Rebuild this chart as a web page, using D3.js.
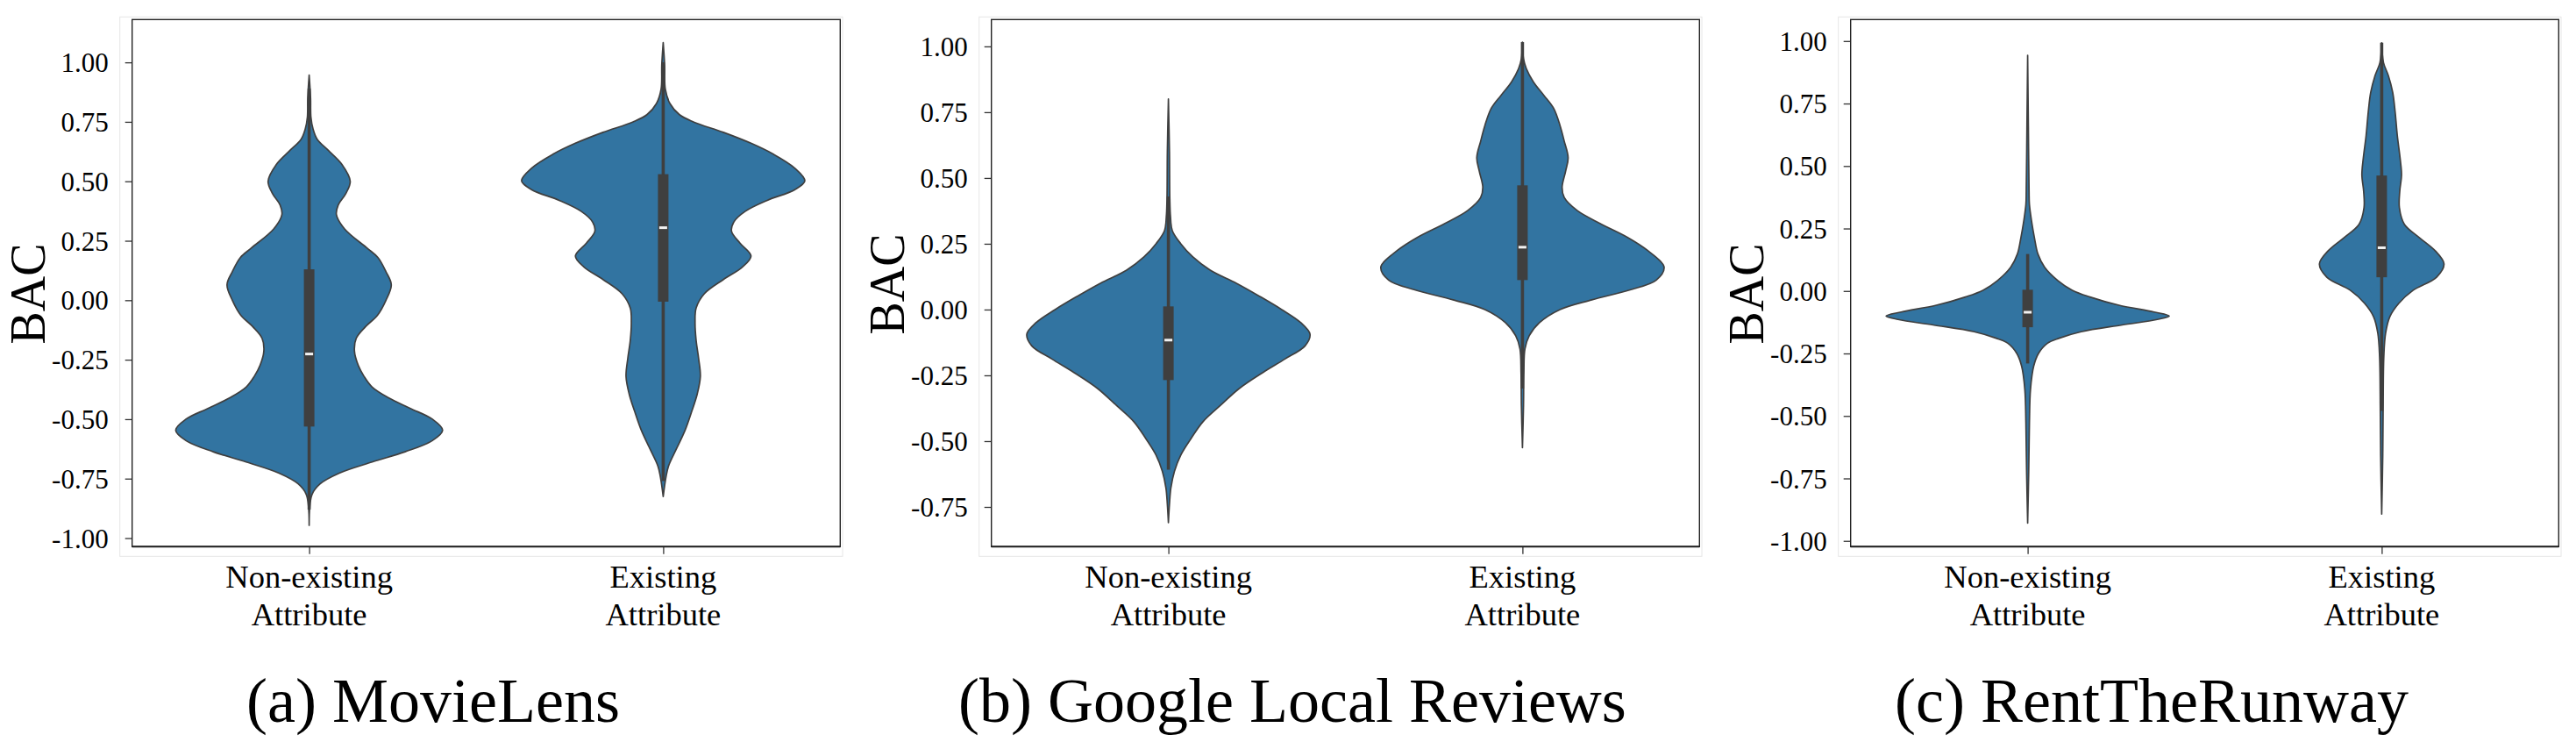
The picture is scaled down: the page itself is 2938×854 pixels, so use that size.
<!DOCTYPE html>
<html>
<head>
<meta charset="utf-8">
<script src="https://cdn.jsdelivr.net/npm/d3@7"></script>
<style>
  html, body { margin: 0; padding: 0; background: #ffffff; }
  svg { display: block; }
</style>
</head>
<body>
<svg id="chart" width="2938" height="854"></svg>
<script>
// ---------------- DATA ----------------
const categories = ["Non-existing", "Existing"];
const categoryLines = [["Non-existing", "Attribute"], ["Existing", "Attribute"]];
const panelTitles = ["(a) MovieLens", "(b) Google Local Reviews", "(c) RentTheRunway"];
const yLabel = "BAC";

const yTicksMovieLens = [-1.00, -0.75, -0.50, -0.25, 0.00, 0.25, 0.50, 0.75, 1.00];
const yTicksGoogle    = [-0.75, -0.50, -0.25, 0.00, 0.25, 0.50, 0.75, 1.00];
const yTicksRent      = [-1.00, -0.75, -0.50, -0.25, 0.00, 0.25, 0.50, 0.75, 1.00];

// Violin outlines: BAC level and half-width (in category units, max 0.4)
const mlNonVals   = [0.947, 0.85, 0.77, 0.72, 0.676, 0.63, 0.57, 0.50, 0.45, 0.40, 0.36, 0.30, 0.22, 0.18, 0.12, 0.065, 0.0, -0.063, -0.11, -0.16, -0.214, -0.275, -0.32, -0.365, -0.41, -0.455, -0.50, -0.546, -0.59, -0.637, -0.68, -0.727, -0.772, -0.817, -0.946];
const mlNonWidths = [0, 0.004, 0.005, 0.011, 0.023, 0.054, 0.093, 0.116, 0.104, 0.082, 0.077, 0.10, 0.163, 0.194, 0.217, 0.232, 0.217, 0.193, 0.16, 0.133, 0.128, 0.139, 0.155, 0.178, 0.224, 0.286, 0.348, 0.377, 0.348, 0.271, 0.178, 0.085, 0.031, 0.008, 0];
const mlExVals    = [1.083, 0.99, 0.887, 0.827, 0.78, 0.75, 0.706, 0.66, 0.615, 0.555, 0.502, 0.465, 0.42, 0.374, 0.33, 0.29, 0.24, 0.186, 0.14, 0.087, 0.027, -0.033, -0.094, -0.169, -0.244, -0.32, -0.395, -0.47, -0.546, -0.62, -0.697, -0.742, -0.825];
const mlExWidths  = [0, 0.004, 0.006, 0.019, 0.046, 0.085, 0.17, 0.248, 0.31, 0.372, 0.40, 0.372, 0.294, 0.232, 0.20, 0.193, 0.217, 0.248, 0.224, 0.17, 0.116, 0.093, 0.09, 0.093, 0.10, 0.105, 0.096, 0.08, 0.062, 0.039, 0.015, 0.008, 0];

const glNonVals   = [0.80, 0.60, 0.42, 0.351, 0.30, 0.25, 0.20, 0.15, 0.10, 0.05, 0.0, -0.05, -0.094, -0.138, -0.188, -0.239, -0.30, -0.364, -0.427, -0.49, -0.553, -0.615, -0.678, -0.74, -0.81];
const glNonWidths = [0, 0.003, 0.004, 0.006, 0.011, 0.035, 0.069, 0.118, 0.192, 0.258, 0.32, 0.374, 0.40, 0.386, 0.329, 0.267, 0.20, 0.147, 0.097, 0.064, 0.035, 0.017, 0.007, 0.003, 0];
const glExVals    = [1.016, 0.953, 0.915, 0.865, 0.815, 0.765, 0.70, 0.64, 0.577, 0.526, 0.464, 0.426, 0.376, 0.326, 0.275, 0.225, 0.162, 0.112, 0.075, 0.037, 0.0, -0.05, -0.10, -0.15, -0.238, -0.364, -0.525];
const glExWidths  = [0, 0.003, 0.011, 0.031, 0.06, 0.088, 0.106, 0.118, 0.129, 0.122, 0.112, 0.118, 0.155, 0.221, 0.296, 0.353, 0.40, 0.378, 0.304, 0.196, 0.106, 0.048, 0.019, 0.007, 0.004, 0.003, 0];

const rtNonVals   = [0.943, 0.663, 0.399, 0.346, 0.28, 0.214, 0.148, 0.095, 0.042, 0.003, -0.024, -0.057, -0.084, -0.10, -0.114, -0.136, -0.163, -0.189, -0.209, -0.249, -0.301, -0.394, -0.526, -0.724, -0.929];
const rtNonWidths = [0, 0.002, 0.004, 0.005, 0.011, 0.019, 0.029, 0.048, 0.085, 0.126, 0.176, 0.258, 0.357, 0.40, 0.366, 0.267, 0.151, 0.089, 0.056, 0.031, 0.017, 0.008, 0.005, 0.003, 0];
const rtExVals    = [0.993, 0.914, 0.861, 0.795, 0.716, 0.623, 0.531, 0.465, 0.399, 0.333, 0.267, 0.214, 0.161, 0.108, 0.055, 0.003, -0.05, -0.103, -0.169, -0.262, -0.473, -0.658, -0.893];
const rtExWidths  = [0, 0.005, 0.019, 0.031, 0.038, 0.044, 0.052, 0.056, 0.051, 0.05, 0.064, 0.106, 0.151, 0.176, 0.155, 0.089, 0.048, 0.023, 0.011, 0.006, 0.004, 0.003, 0];

// Inner box stats: [whisker low, Q1, median, Q3, whisker high]
const mlNonBox = [-0.88, -0.531, -0.226, 0.13, 0.89];
const mlExBox  = [-0.76, -0.006, 0.305, 0.53, 1.0];
const glNonBox = [-0.608, -0.268, -0.116, 0.012, 0.43];
const glExBox  = [-0.30, 0.112, 0.237, 0.472, 1.016];
const rtNonBox = [-0.29, -0.145, -0.085, 0.005, 0.148];
const rtExBox  = [-0.48, 0.055, 0.173, 0.462, 0.993];

// Axis limits per panel
const yDomainMovieLens = [-1.036, 1.180];
const yDomainGoogle    = [-0.901, 1.102];
const yDomainRent      = [-1.023, 1.086];

// ---------------- LAYOUT ----------------
const FONT = "'Liberation Serif','Times New Roman',Times,serif";
const FILL = "#3274a1", DARK = "#3f3f3f";
const panelStep = 980, frameLeft0 = 150.7, frameW = 807.6;
const frameTop = 22.3, frameBottom = 623.3;
const ylabelY = [335, 324, 335];

const panels = [
  { title: panelTitles[0], yDomain: yDomainMovieLens, yTicks: yTicksMovieLens,
    violins: [ {vals: mlNonVals, widths: mlNonWidths, box: mlNonBox}, {vals: mlExVals, widths: mlExWidths, box: mlExBox} ] },
  { title: panelTitles[1], yDomain: yDomainGoogle, yTicks: yTicksGoogle,
    violins: [ {vals: glNonVals, widths: glNonWidths, box: glNonBox}, {vals: glExVals, widths: glExWidths, box: glExBox} ] },
  { title: panelTitles[2], yDomain: yDomainRent, yTicks: yTicksRent,
    violins: [ {vals: rtNonVals, widths: rtNonWidths, box: rtNonBox}, {vals: rtExVals, widths: rtExWidths, box: rtExBox} ] }
];

const svg = d3.select("#chart");
svg.append("rect").attr("width", 2938).attr("height", 854).attr("fill", "#fff");

panels.forEach((p, i) => {
  const left = frameLeft0 + i * panelStep;
  const right = left + frameW;
  const g = svg.append("g");

  // faint outer figure border
  g.append("rect")
    .attr("x", left - 14).attr("y", 19.3)
    .attr("width", right + 2.7 - (left - 14)).attr("height", 634.3 - 19.3)
    .attr("fill", "none").attr("stroke", "#e6e6e6").attr("stroke-width", 1);

  const x = d3.scalePoint().domain(categories).range([left, right]).padding(0.5);
  const unit = (right - left) / 2;
  const y = d3.scaleLinear().domain(p.yDomain).range([frameBottom, frameTop]);

  // violins
  p.violins.forEach((v, j) => {
    const cx = x(categories[j]);
    const pts = v.vals.map((val, k) => ({ v: val, w: v.widths[k] }));
    const area = d3.area()
      .y(d => y(d.v))
      .x0(d => cx - d.w * unit)
      .x1(d => cx + d.w * unit)
      .curve(d3.curveCatmullRom.alpha(0.5));
    g.append("path").attr("d", area(pts))
      .attr("fill", FILL).attr("stroke", DARK).attr("stroke-width", 1.7)
      .attr("stroke-linejoin", "round");
    const b = v.box;
    g.append("line")
      .attr("x1", cx).attr("x2", cx).attr("y1", y(b[0])).attr("y2", y(b[4]))
      .attr("stroke", DARK).attr("stroke-width", 3.6);
    g.append("rect")
      .attr("x", cx - 6).attr("width", 12)
      .attr("y", y(b[3])).attr("height", y(b[1]) - y(b[3]))
      .attr("fill", DARK);
    g.append("rect")
      .attr("x", cx - 4.5).attr("width", 9)
      .attr("y", y(b[2]) - 1.5).attr("height", 3)
      .attr("fill", "#f2f2f2");
  });

  // y axis
  const yAxis = d3.axisLeft(y).tickValues(p.yTicks).tickFormat(d => d.toFixed(2)).tickSize(8).tickPadding(19);
  const ya = g.append("g").attr("transform", `translate(${left},0)`).call(yAxis);
  ya.select(".domain").remove();
  ya.selectAll(".tick line").attr("stroke", "#333").attr("stroke-width", 1.3);
  ya.selectAll(".tick text").attr("font-family", FONT).attr("font-size", 31)
    .attr("fill", "#000").attr("dy", "0.34em");

  // x axis
  const xAxis = d3.axisBottom(x).tickSize(8.4).tickFormat("");
  const xa = g.append("g").attr("transform", `translate(0,${frameBottom})`).call(xAxis);
  xa.select(".domain").remove();
  xa.selectAll(".tick line").attr("stroke", "#333").attr("stroke-width", 1.3);
  xa.selectAll(".tick text").remove();
  categories.forEach((c, j) => {
    const t = g.append("text").attr("font-family", FONT).attr("font-size", 36.5)
      .attr("text-anchor", "middle").attr("fill", "#000");
    categoryLines[j].forEach((line, k) => {
      t.append("tspan").attr("x", x(c)).attr("y", 670 + k * 43.3).text(line);
    });
  });

  // frame
  g.append("rect")
    .attr("x", left).attr("y", frameTop)
    .attr("width", right - left).attr("height", frameBottom - frameTop)
    .attr("fill", "none").attr("stroke", "#222").attr("stroke-width", 1.4);
  g.append("line")
    .attr("x1", left).attr("x2", right).attr("y1", frameBottom).attr("y2", frameBottom)
    .attr("stroke", "#222").attr("stroke-width", 2);

  // y label
  g.append("text")
    .attr("transform", `translate(${50.7 + i * panelStep},${ylabelY[i]}) rotate(-90)`)
    .attr("text-anchor", "middle").attr("font-family", FONT).attr("font-size", 56)
    .attr("fill", "#000").text(yLabel);

  // caption
  g.append("text")
    .attr("x", 494 + i * panelStep).attr("y", 822.7)
    .attr("text-anchor", "middle").attr("font-family", FONT).attr("font-size", 72)
    .attr("fill", "#000").text(p.title);
});
</script>
</body>
</html>
